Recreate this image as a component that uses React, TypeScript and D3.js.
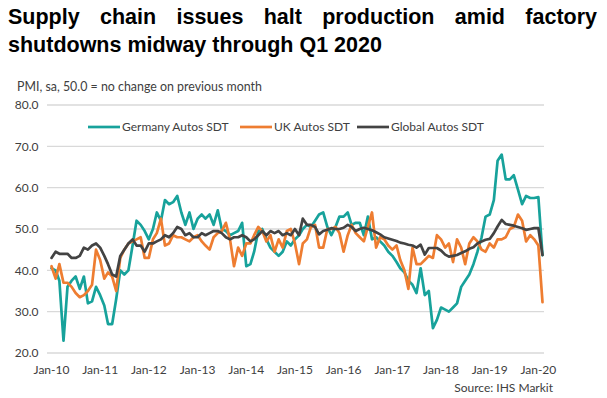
import React, { useLayoutEffect, useRef, useState } from 'react';
import * as d3 from 'd3';

const titleLine1 = 'Supply chain issues halt production amid factory';
const titleLine2 = 'shutdowns midway through Q1 2020';
const subtitle = 'PMI, sa, 50.0 = no change on previous month';
const source = 'Source: IHS Markit';

const seriesNames = ['Germany Autos SDT', 'UK Autos SDT', 'Global Autos SDT'];
const seriesColors = ['#17a29b', '#ee7d31', '#434343'];

const yTicks = [20, 30, 40, 50, 60, 70, 80];
const yTickLabels = ['20.0', '30.0', '40.0', '50.0', '60.0', '70.0', '80.0'];
const xTickYears = [2010, 2011, 2012, 2013, 2014, 2015, 2016, 2017, 2018, 2019, 2020];
const xTickLabels = ['Jan-10', 'Jan-11', 'Jan-12', 'Jan-13', 'Jan-14', 'Jan-15', 'Jan-16', 'Jan-17', 'Jan-18', 'Jan-19', 'Jan-20'];

const months = d3.timeMonth.range(new Date(2010, 0, 1), new Date(2020, 2, 1));

const germany = [
  40.5, 40, 37.5, 23, 36, 37.5, 38.5, 35.5, 38.5, 32, 32.5, 36,
  34, 31.5, 27, 27, 33, 40, 39, 40, 46, 52, 51, 49.5,
  47.5, 50, 54, 52, 57, 56, 56.5, 58, 54, 51, 54, 50,
  52.5, 53.5, 52.5, 53.5, 51, 54.5, 50, 49.5, 48.5, 49, 49.5, 51.5,
  41, 41.5, 44.5, 49.5, 50, 47.5, 45.5, 44.5, 43.5, 44.5, 47, 46,
  47.5, 48.5, 50, 51, 50.5, 52, 53.5, 54, 50.5, 48.5, 50.5, 53,
  53, 54, 51, 51.5, 51.5, 48.5, 53, 47.5, 48, 47, 46, 44.5,
  43.5, 42, 40.5, 39.5, 37.5, 36.5, 34.5, 40.5, 34, 35, 26, 28,
  31, 30.5, 30, 31, 32, 36, 37.5, 39, 41.5, 44.5, 48, 53,
  53.5, 57, 66.5, 68, 62, 62, 63, 59.5, 56, 58, 57.5, 57.5,
  57.7, 43.7,
];

const uk = [
  41, 38, 41.5, 37, 37, 36, 34.5, 33.5, 34, 35, 36.5, 45,
  42.5, 38, 39.5, 38.5, 35, 43, 45, 46.5, 47, 47.5, 48, 43,
  43, 47.5, 49, 52.5, 46, 46.5, 48.5, 48, 48, 47.5, 47, 48,
  48.5, 47, 46, 45, 48, 49, 49.5, 51.5, 47.5, 41, 45.5, 43.5,
  46.5, 46.5, 48.5, 50.5, 49.5, 47, 48.5, 44.5, 47.5, 45.5, 49.5, 50,
  46.5, 41.5, 46.5, 47.5, 50.5, 51, 45.5, 45.5, 50, 50, 50.5, 49,
  44.5, 48.5, 51, 49, 48, 47, 50.5, 54, 45.5, 48, 47.5, 46,
  45, 46, 42.5, 40, 35.5, 45.5, 41.5, 41.5, 42.5, 43.5, 43, 48.5,
  47.5, 45.5, 46.5, 42, 47.5, 45.5, 41.5, 46.5, 48, 47, 45, 44.5,
  46.5, 45.5, 47.5, 47.5, 48, 50, 50.5, 53.5, 52, 47, 48.5, 47.5,
  46, 32.3,
];

const globalAutos = [
  43, 44.5, 44, 44, 44, 43, 43, 43.5, 45.5, 45, 46, 46.5,
  45.5, 43.5, 41.5, 39, 38.5, 43.5, 45, 46.5, 47.5, 46, 46, 44.5,
  46.5, 46.5, 47, 47.5, 48.5, 48, 49, 50.5, 50, 48.5, 49, 48,
  48, 49, 48.5, 49, 49.5, 49.5, 49, 48, 47.5, 48, 48, 48.5,
  48, 47, 47.5, 48.5, 49.5, 48.5, 49.5, 49, 49.5, 48.5, 49, 48.5,
  50, 48.5, 52.5, 51, 51, 50.5, 48.7, 49.5, 49.8, 50.2, 50, 50,
  50.3, 51, 50.5, 49.5, 50, 50.3, 50, 49.7, 49.2, 48.7, 48, 47.7,
  47.4, 47.1, 46.7, 46.5, 46.2, 46, 45.5, 46.2, 43.8, 45.4, 45.4, 45.4,
  44.8, 43.8, 43.3, 43.5, 43.7, 44.2, 44.6, 45.2, 45.6, 46.5, 47, 47.4,
  47.6, 49, 50.6, 52.2, 51.2, 51, 50.8, 50.5, 50.2, 49.8, 50, 50.2,
  50.2, 43.7,
];

const allSeries = [germany, uk, globalAutos];

const W = 607;
const H = 398;
const plot = { left: 51.5, right: 542.5, top: 105, bottom: 353 };
const labelFont = 'Lato, "Open Sans", sans-serif';

export default function App() {
  const x = d3.scaleTime().domain([months[0], months[months.length - 1]]).range([plot.left, plot.right]);
  const y = d3.scaleLinear().domain([20, 80]).range([plot.bottom, plot.top]);
  const line = d3
    .line<number>()
    .x((_, i) => x(months[i]))
    .y((d) => y(d));

  const t1Ref = useRef<SVGTextElement>(null);
  const [wordSpacing, setWordSpacing] = useState(0);
  useLayoutEffect(() => {
    if (t1Ref.current) {
      const natural = t1Ref.current.getComputedTextLength();
      const gaps = titleLine1.split(' ').length - 1;
      const target = 597 - 8;
      setWordSpacing((target - natural) / gaps);
    }
  }, []);

  const legendItems = [
    { sx: 88, tx: 122 },
    { sx: 240, tx: 274 },
    { sx: 357, tx: 391 },
  ];

  return (
    <svg width={W} height={H} style={{ position: 'absolute', left: 0, top: 0, background: '#fff' }}>
      <text
        ref={t1Ref}
        x={8}
        y={24}
        fontFamily='"Liberation Sans", Arial, sans-serif'
        fontWeight="bold"
        fontSize={21.5}
        fill="#000"
        style={{ wordSpacing: `${wordSpacing}px` }}
      >
        {titleLine1}
      </text>
      <text x={8} y={52} fontFamily='"Liberation Sans", Arial, sans-serif' fontWeight="bold" fontSize={21.5} fill="#000">
        {titleLine2}
      </text>
      <text x={17} y={91} fontFamily={labelFont} fontSize={12.4} fill="#404040">
        {subtitle}
      </text>

      {yTicks.map((t, i) => (
        <g key={t}>
          <line x1={47} x2={544} y1={y(t)} y2={y(t)} stroke="#d9d9d9" strokeWidth={1.3} />
          <text x={38.5} y={y(t)} dy="0.35em" textAnchor="end" fontFamily={labelFont} fontSize={12} fill="#404040">
            {yTickLabels[i]}
          </text>
        </g>
      ))}

      {xTickYears.map((yr, i) => (
        <text
          key={yr}
          x={x(new Date(yr, 0, 1))}
          y={374}
          textAnchor="middle"
          fontFamily={labelFont}
          fontSize={12}
          fill="#404040"
        >
          {xTickLabels[i]}
        </text>
      ))}

      {allSeries.map((s, k) => (
        <path
          key={k}
          d={line(s) || ''}
          fill="none"
          stroke={seriesColors[k]}
          strokeWidth={2.7}
          strokeLinejoin="round"
          strokeLinecap="round"
        />
      ))}

      {legendItems.map((it, k) => (
        <g key={k}>
          <line x1={it.sx} x2={it.sx + 32} y1={127} y2={127} stroke={seriesColors[k]} strokeWidth={2.7} />
          <text x={it.tx} y={127} dy="0.35em" fontFamily={labelFont} fontSize={12} fill="#404040">
            {seriesNames[k]}
          </text>
        </g>
      ))}

      <text x={553} y={392} textAnchor="end" fontFamily={labelFont} fontSize={12} fill="#404040">
        {source}
      </text>
    </svg>
  );
}
